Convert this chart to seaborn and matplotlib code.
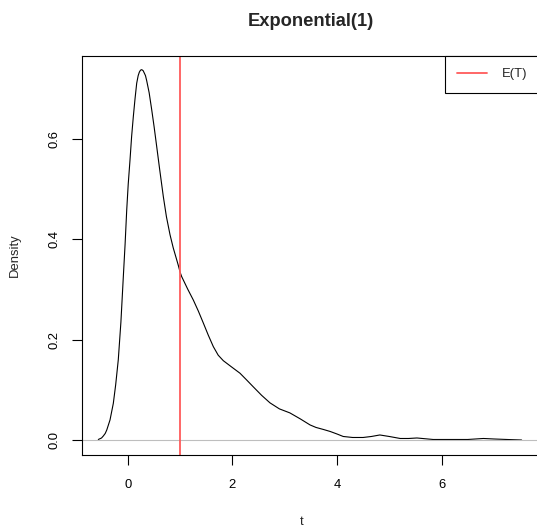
import matplotlib
matplotlib.use('Agg')
import seaborn as sns
import matplotlib.pyplot as plt
import pandas as pd

# density curve
t = [-0.562, -0.50, -0.466, -0.43, -0.40, -0.338, -0.275, -0.23, -0.18, -0.13,
     -0.084, -0.05, -0.019, 0.01, 0.044, 0.075, 0.107, 0.14, 0.172, 0.20,
     0.222, 0.245, 0.268, 0.295, 0.318, 0.34, 0.363, 0.41, 0.459, 0.505,
     0.554, 0.61, 0.681, 0.74, 0.809, 0.87, 0.937, 0.97, 1.0, 1.03,
     1.09, 1.15, 1.254, 1.35, 1.446, 1.54, 1.637, 1.73, 1.828, 1.98,
     2.147, 2.27, 2.40, 2.56, 2.72, 2.9, 3.10, 3.3, 3.486, 3.6,
     3.74, 3.87, 4.0, 4.12, 4.3, 4.50, 4.66, 4.82, 5.0, 5.21,
     5.37, 5.53, 5.84, 6.2, 6.5, 6.80, 7.0, 7.25, 7.53]
density = [0.001, 0.004, 0.008, 0.013, 0.02, 0.04, 0.073, 0.11, 0.16, 0.235,
           0.325, 0.39, 0.458, 0.51, 0.558, 0.605, 0.644, 0.68, 0.711, 0.726,
           0.733, 0.737, 0.738, 0.736, 0.731, 0.726, 0.716, 0.692, 0.658, 0.624,
           0.585, 0.54, 0.485, 0.445, 0.409, 0.383, 0.359, 0.347, 0.335, 0.326,
           0.313, 0.300, 0.279, 0.257, 0.233, 0.209, 0.186, 0.169, 0.158, 0.146,
           0.133, 0.12, 0.106, 0.089, 0.074, 0.062, 0.054, 0.042, 0.030, 0.025,
           0.021, 0.017, 0.012, 0.007, 0.005, 0.005, 0.007, 0.010, 0.007, 0.003,
           0.003, 0.004, 0.001, 0.001, 0.001, 0.003, 0.002, 0.001, 0.0]
mean_t = 1.0
xticks = [0, 2, 4, 6]
yticks = [0.0, 0.2, 0.4, 0.6]

df = pd.DataFrame({'t': t, 'Density': density})

sns.set_style('white')
plt.rcParams['font.family'] = ['Liberation Sans', 'DejaVu Sans']

fig = plt.figure(figsize=(5.37, 5.29), dpi=100)
ax = fig.add_axes([0.1518, 0.1399, 0.853, 0.755])

sns.lineplot(data=df, x='t', y='Density', ax=ax, color='black', lw=0.8,
             estimator=None, sort=True)
ax.axhline(0, color='#bebebe', lw=0.8)
ax.axvline(mean_t, color='#ff5a5a', lw=1.3, label='E(T)')

ax.set_xlim(-0.883, 7.874)
ax.set_ylim(-0.0299, 0.766)
ax.set_xticks(xticks)
ax.set_xticklabels([str(v) for v in xticks])
ax.set_yticks(yticks)
ax.set_yticklabels([f'{v:.1f}' for v in yticks], rotation=90, va='center')
ax.tick_params(axis='both', direction='out', length=7.2, width=0.8, colors='black',
               labelsize=9.4, bottom=True, left=True)
ax.tick_params(axis='x', pad=10)
ax.tick_params(axis='y', pad=8)
for s in ax.spines.values():
    s.set_color('black')
    s.set_linewidth(0.8)

ax.set_xlabel('t', fontsize=9.4, va='center')
ax.xaxis.set_label_coords(0.481, -0.168)
ax.set_ylabel('Density', fontsize=9.4, va='center')
ax.yaxis.set_label_coords(-0.145, 0.5)
ax.set_title('Exponential(1)', fontsize=13.2, fontweight='bold', pad=21)

leg = ax.legend(loc='upper right', borderaxespad=0, borderpad=0.95,
                handlelength=2.3, handletextpad=1.1, fontsize=9.4,
                fancybox=False, framealpha=1)
leg.get_frame().set_edgecolor('black')
leg.get_frame().set_linewidth(0.8)

fig.savefig('out.png', dpi=100)
